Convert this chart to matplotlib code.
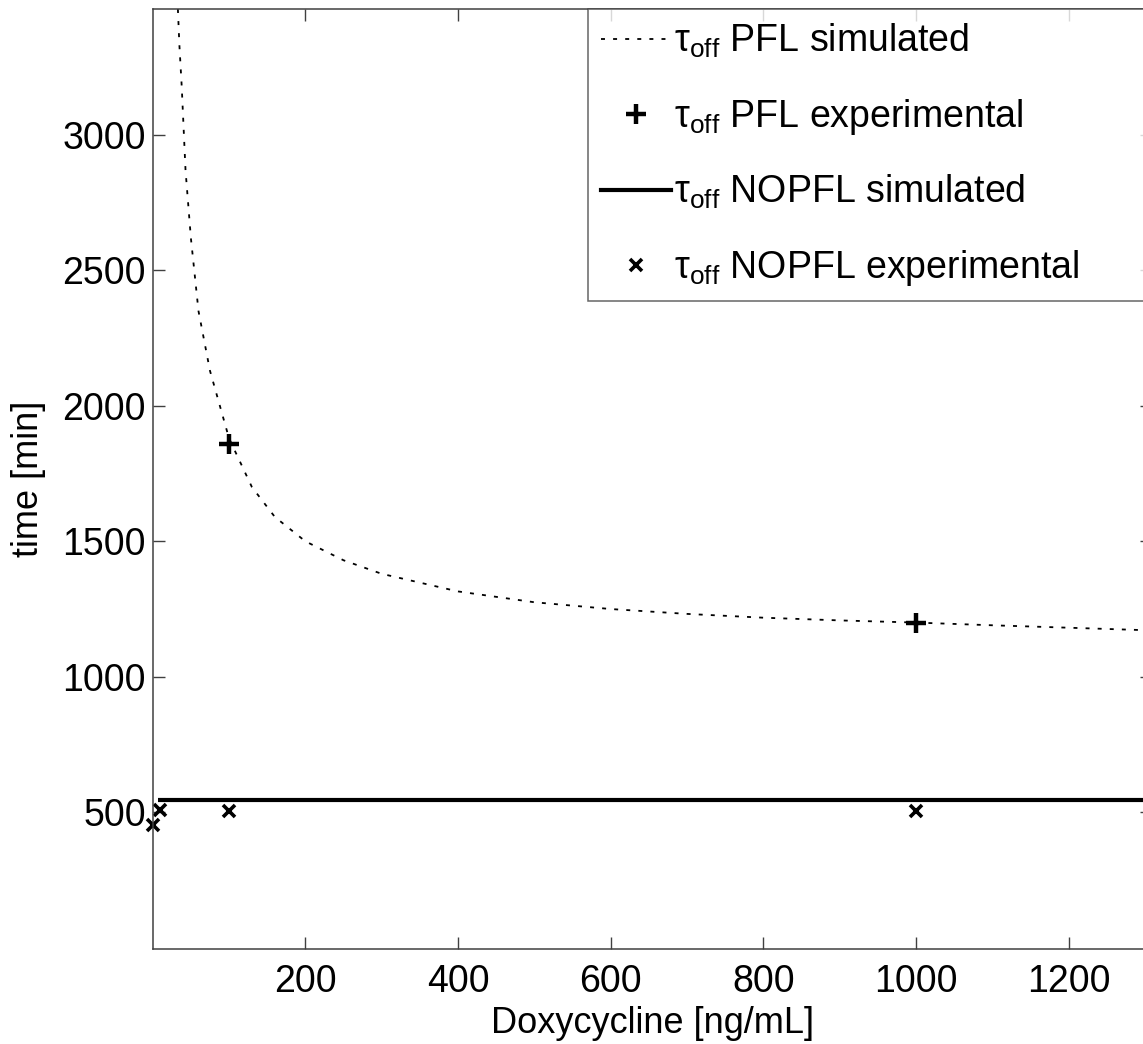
import matplotlib
matplotlib.use('Agg')
import matplotlib.pyplot as plt
from matplotlib.lines import Line2D

plt.rcParams['font.family'] = ['Liberation Sans', 'DejaVu Sans']
plt.rcParams['mathtext.fontset'] = 'custom'
plt.rcParams['mathtext.rm'] = 'Liberation Sans'
plt.rcParams['mathtext.it'] = 'Liberation Sans'
plt.rcParams['font.size'] = 27

# PFL simulated curve
pfl_sim_x = [33, 35, 38, 43, 50, 60, 75, 100, 130, 160, 200, 250, 300, 400,
             500, 600, 700, 800, 900, 1000, 1100, 1200, 1310]
pfl_sim_y = [3465, 3330, 3180, 2870, 2620, 2350, 2130, 1880, 1700, 1590, 1500,
             1430, 1380, 1315, 1275, 1250, 1232, 1218, 1208, 1200, 1190, 1181, 1171]

# PFL experimental
pfl_exp_x = [100, 1000]
pfl_exp_y = [1860, 1200]

# NOPFL simulated (flat)
nopfl_sim_x = [7, 1310]
nopfl_sim_y = [545, 545]

# NOPFL experimental
nopfl_exp_x = [0, 10, 100, 1000]
nopfl_exp_y = [452, 507, 505, 505]

xticks = [200, 400, 600, 800, 1000, 1200]
yticks = [500, 1000, 1500, 2000, 2500, 3000]

SPINE = '#404040'
DOT = (0, (2.2, 4.5))

fig = plt.figure(figsize=(11.43, 10.44), dpi=100)
ax = fig.add_axes([152.7 / 1143, 95 / 1044, 999.2 / 1143, 940 / 1044])

ax.plot(pfl_sim_x, pfl_sim_y, color='black', lw=1.3, linestyle=DOT)
ax.plot(pfl_exp_x, pfl_exp_y, linestyle='none', marker='+', color='black',
        markersize=14, markeredgewidth=3.2, clip_on=False)
ax.plot(nopfl_sim_x, nopfl_sim_y, color='black', lw=3, solid_capstyle='butt')
ax.plot(nopfl_exp_x, nopfl_exp_y, linestyle='none', marker='x', color='black',
        markersize=9, markeredgewidth=2.6, clip_on=False)

ax.set_xlim(0, 1309)
ax.set_ylim(-5, 3465)
ax.set_xticks(xticks)
ax.set_yticks(yticks)
ax.tick_params(direction='in', length=8.5, width=1, color=SPINE,
               top=True, right=True, labelsize=27)
ax.tick_params(axis='x', pad=11)
ax.tick_params(axis='y', pad=5)
for s in ax.spines.values():
    s.set_color(SPINE)
    s.set_linewidth(1.1)

ax.set_xlabel('Doxycycline [ng/mL]', fontsize=26, labelpad=4)
ax.set_ylabel('time [min]', fontsize=26, labelpad=12)

handles = [
    Line2D([], [], color='black', lw=1.3, linestyle=DOT),
    Line2D([], [], linestyle='none', marker='+', color='black', markersize=14, markeredgewidth=3.2),
    Line2D([], [], color='black', lw=3),
    Line2D([], [], linestyle='none', marker='x', color='black', markersize=9, markeredgewidth=2.6),
]
labels = [
    r'$\mathregular{\tau_{off}}$ PFL simulated',
    r'$\mathregular{\tau_{off}}$ PFL experimental',
    r'$\mathregular{\tau_{off}}$ NOPFL simulated',
    r'$\mathregular{\tau_{off}}$ NOPFL experimental',
]
x0 = (588 - 152.7) / 999.2
leg = ax.legend(handles, labels, loc='upper left', bbox_to_anchor=(x0, 0, 0.6, 1.0),
                mode='expand', borderaxespad=0, fontsize=27, frameon=True, fancybox=False,
                edgecolor=SPINE, handlelength=1.85, handletextpad=0.1, labelspacing=0.97,
                borderpad=0.35)
leg.get_frame().set_linewidth(1.1)

fig.savefig('out.png', dpi=100)
